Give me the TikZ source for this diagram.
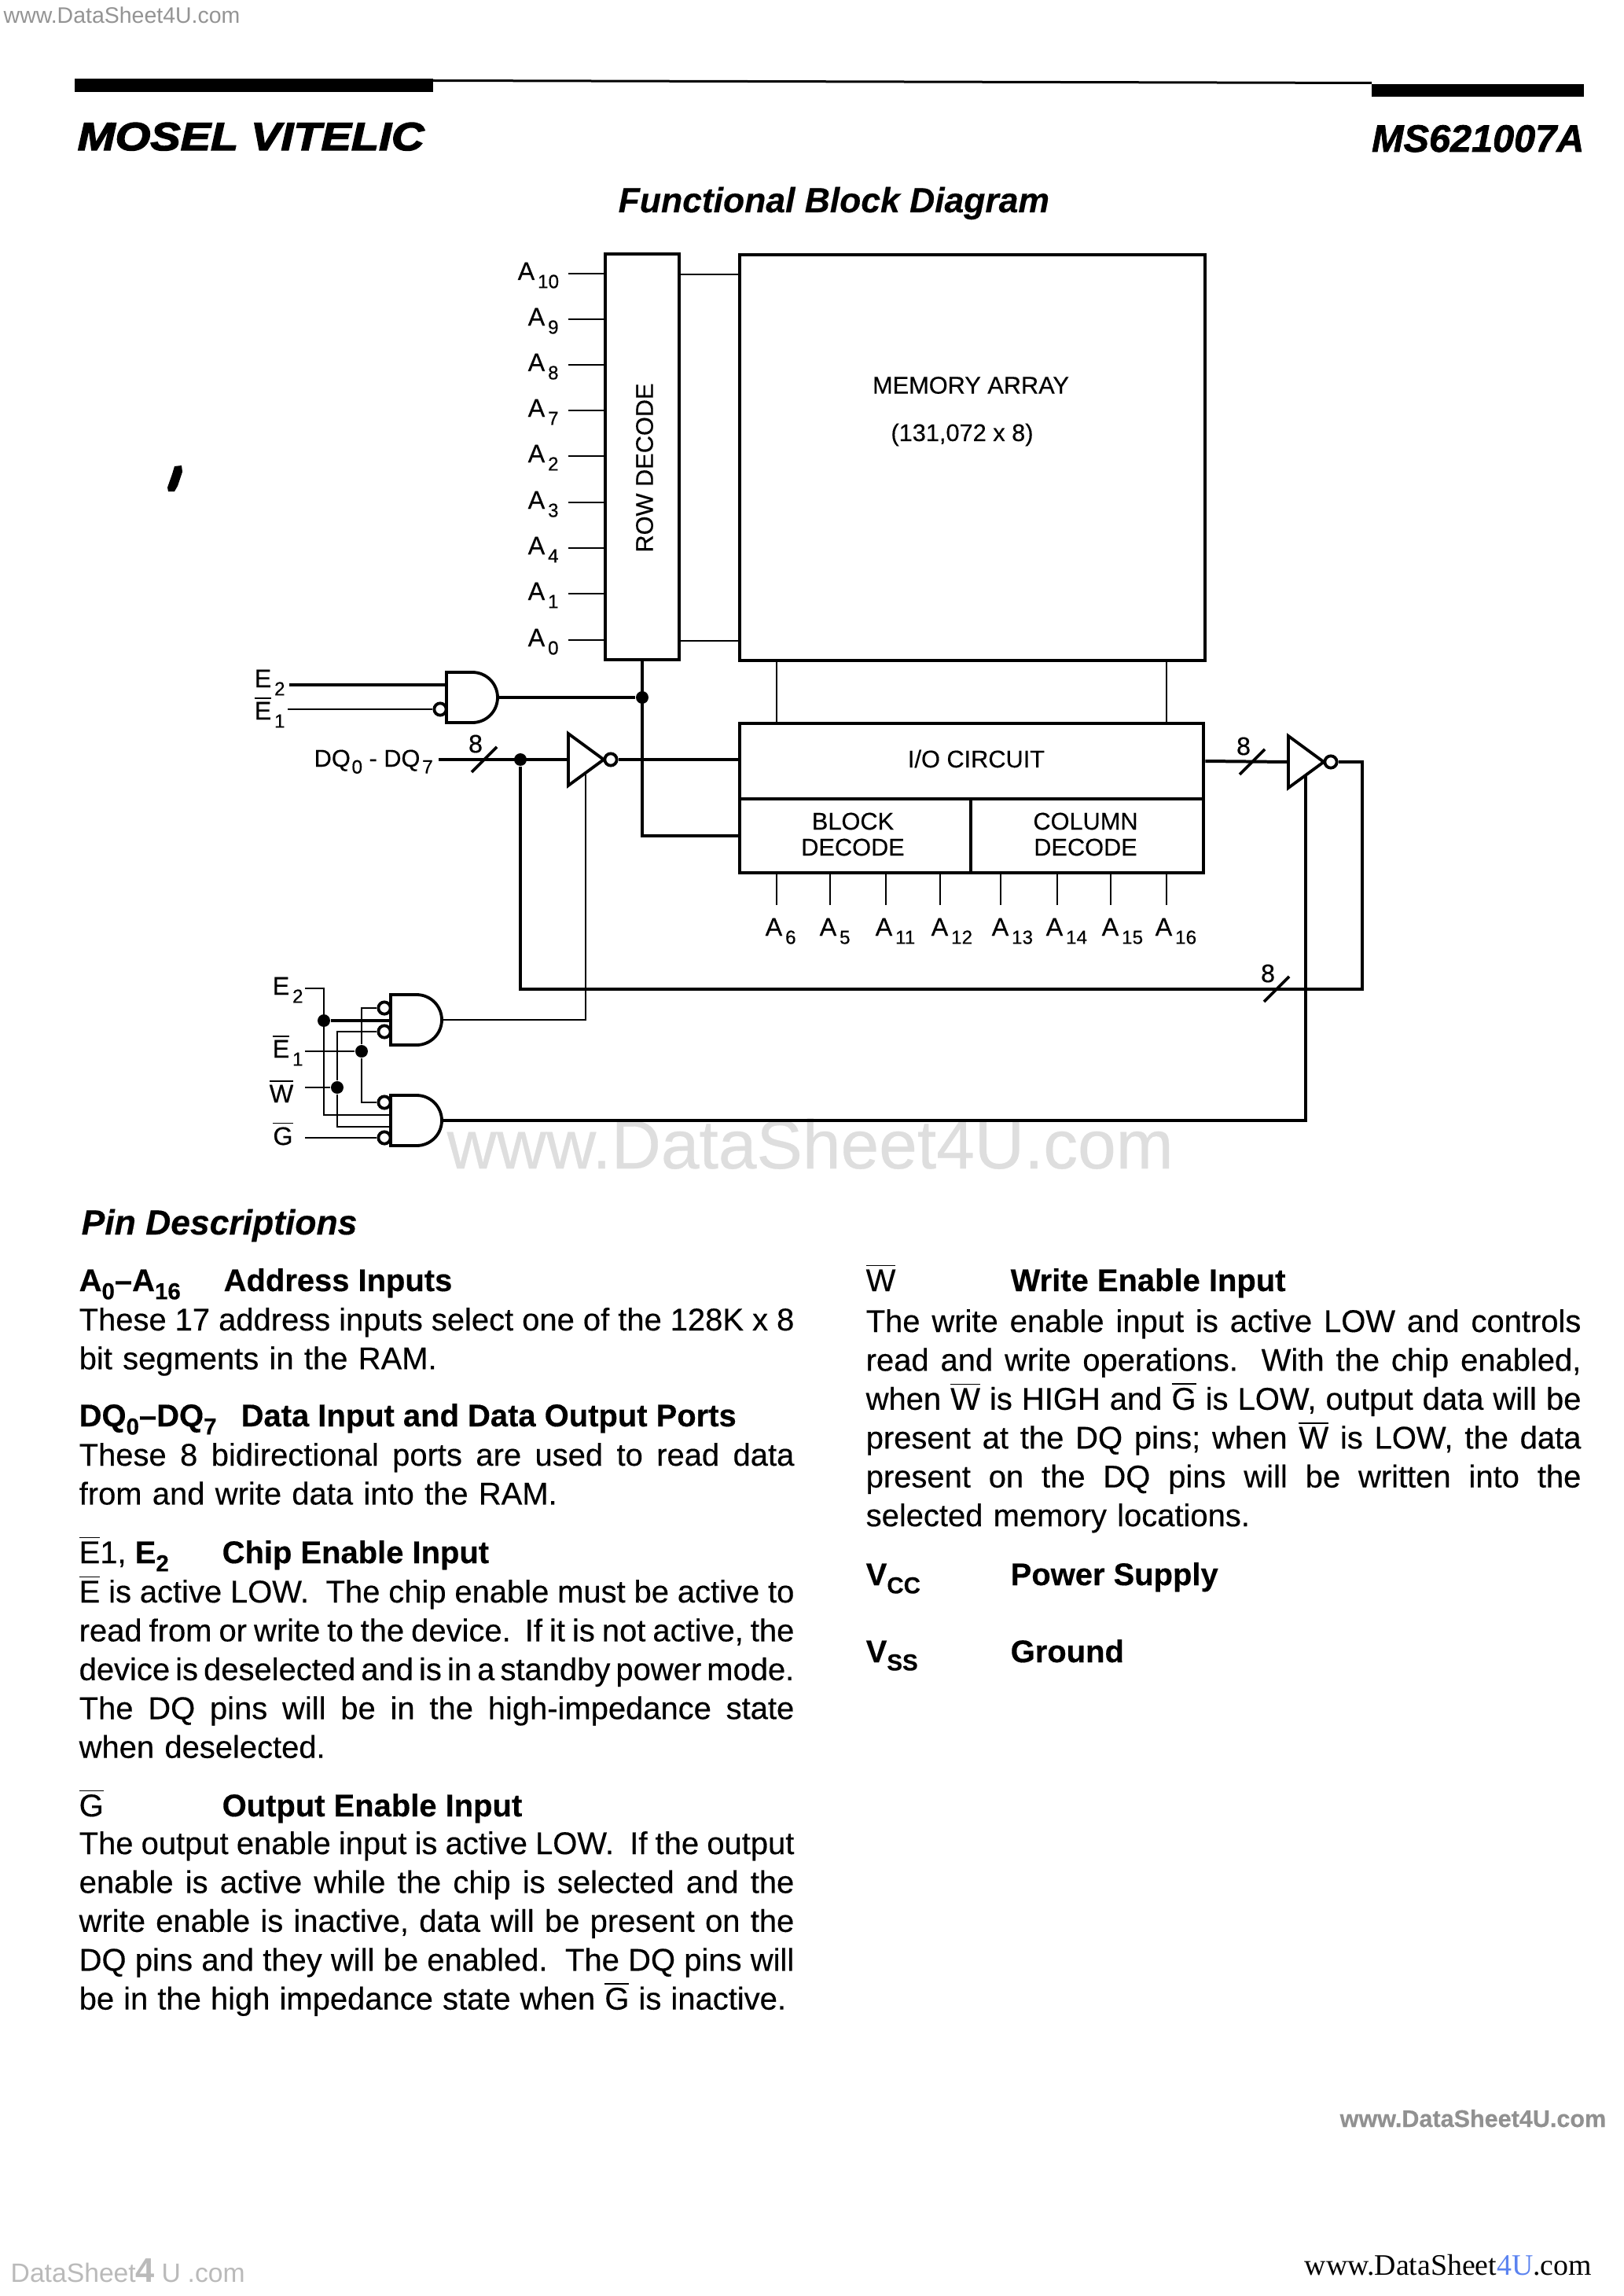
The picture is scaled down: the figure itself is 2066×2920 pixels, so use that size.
\documentclass[tikz,border=0pt]{standalone}
\usepackage{fontspec}
\setmainfont[FakeBold=0.35]{Liberation Sans}
\newfontfamily\logofont[UprightFont={* Bold Italic},FakeBold=3,FakeStretch=1.15]{Liberation Sans}
\newfontfamily\partfont[UprightFont={* Bold Italic},FakeBold=1.5]{Liberation Sans}
\newfontfamily\plainsans{Liberation Sans}
\newfontfamily\serifmark{Liberation Serif}
\usepackage{xcolor}
\definecolor{markblue}{HTML}{5B83F0}
\def\pxu{.288pt}
\newcommand{\lo}[1]{\kern1.1pt\raisebox{-3pt}{\fontsize{7}{7}\selectfont #1}}
\newcommand{\bsub}[1]{\raisebox{-3pt}{\fontsize{8.5}{8.5}\selectfont #1}}
\newcommand{\ovr}[1]{$\overline{\mbox{#1}}$}
\newcommand{\jl}[1]{\hbox to\linewidth{\frenchspacing\spaceskip=.16em plus 1fil\relax #1}}
\newcommand{\bodyfont}{\fontsize{11.5}{14.23}\selectfont}
\newcommand{\andgate}[3]{
  \draw[gateline] (#2,#3-32) -- ++(33,0) arc[start angle=90,end angle=-90,radius=32*\pxu] -- (#2,#3+32) -- cycle;
  \coordinate (#1-out) at (#2+65,#3);
}
\newcommand{\inverter}[3]{
  \draw[gateline] (#2,#3-33) -- (#2+45,#3) -- (#2,#3+33) -- cycle;
  \coordinate (#1-in) at (#2,#3);
  \coordinate (#1-en) at (#2+22,#3+17);
  \node[bubble] (#1-bub) at (#2+54,#3) {};
}
\newcommand{\busmark}[3]{
  \draw[gateline] (#2-16,#3+16) -- (#2+16,#3-16);
  \node[lbl] (#1) at (#2-11,#3-20) {8};
}
\tikzset{
  blockbox/.style={draw,line width=1.3pt,inner sep=0},
  lbl/.style={inner sep=0,font=\fontsize{9.3}{9.5}\selectfont},
  boxtxt/.style={inner sep=0,font=\fontsize{8.85}{9.5}\selectfont},
  gateline/.style={line width=1.1pt},
  wire/.style={line width=.85pt},
  bus/.style={line width=1.15pt},
  bubble/.style={circle,draw,fill=white,line width=1.1pt,inner sep=0,minimum size=4.4pt},
  dot/.style={circle,fill=black,inner sep=0,minimum size=4.6pt},
  para/.style={anchor=base west,inner sep=0,text width=262pt,font=\bodyfont},
  hd/.style={anchor=base west,inner sep=0,font=\bodyfont\bfseries},
  ttl/.style={anchor=base west,inner sep=0,font=\fontsize{12.8}{14}\selectfont\bfseries\itshape}
}
\begin{document}
\begin{tikzpicture}[x=.288pt,y=-.288pt]
\useasboundingbox (0,0) rectangle (2066,2920);
\fill[white] (0,0) rectangle (2066,2920);
\node[anchor=base west,inner sep=0,text=black!42,font=\fontsize{8.2}{9}\selectfont\plainsans] (marktop) at (4,30) {www.DataSheet4U.com};
\node[anchor=base west,inner sep=0,text=black!13,font=\fontsize{25.2}{26}\selectfont] (markmid) at (568,1486) {www.DataSheet4U.com};
\node[anchor=base west,inner sep=0,text=black!43,font=\fontsize{8.8}{9}\selectfont\bfseries] (markside) at (1704,2705) {www.DataSheet4U.com};
\node[anchor=base west,inner sep=0,text=black!27,font=\fontsize{9.7}{10}\selectfont\plainsans] (markleft) at (13,2902) {DataSheet{\fontsize{12.5}{13}\selectfont\bfseries 4}\kern2.5pt U\kern2.5pt.com};
\node[anchor=base west,inner sep=0,font=\fontsize{10.9}{11}\selectfont\serifmark] (markright) at (1659,2893) {www.DataSheet\textcolor{markblue}{4U}.com};

\fill (95,100) rectangle (551,117);
\fill (1745,107) rectangle (2015,123);
\fill (551,101) -- (1745,104) -- (1745,107) -- (551,104) -- cycle;
\node[anchor=base west,inner sep=0,font=\fontsize{14.4}{15}\selectfont\logofont] (vendor) at (98,191) {MOSEL VITELIC};
\node[anchor=base east,inner sep=0,font=\fontsize{14}{15}\selectfont\partfont] (partno) at (2016,193) {MS621007A};
\node[ttl] (title) at (786,270) {Functional Block Diagram};
\fill (222,593) -- (231,592) -- (232,600) -- (226,618) -- (222,625) -- (214,625) -- (213,620) -- (219,603) -- cycle;

\node[blockbox,minimum width=94*\pxu,minimum height=516*\pxu] (rowdec) at (817,581) {};
\node[blockbox,minimum width=592*\pxu,minimum height=516*\pxu] (memarray) at (1237,582) {};
\node[blockbox,minimum width=590*\pxu,minimum height=96*\pxu] (iocirc) at (1236,968) {};
\node[blockbox,minimum width=294*\pxu,minimum height=94*\pxu] (blockdec) at (1088,1063) {};
\node[blockbox,minimum width=296*\pxu,minimum height=94*\pxu] (coldec) at (1383,1063) {};
\node[boxtxt,rotate=90] (rowtxt) at (820,595) {ROW DECODE};
\node[boxtxt] (memtxt) at (1235,490) {MEMORY ARRAY};
\node[boxtxt] (sizetxt) at (1224,553) {(131,072 x 8)};
\node[boxtxt] (iotxt) at (1242,965) {I/O CIRCUIT};
\node[boxtxt,align=center] (blocktxt) at (1085,1061) {BLOCK\\DECODE};
\node[boxtxt,align=center] (coltxt) at (1381,1061) {COLUMN\\DECODE};

\foreach \n/\x/\y in {10/658/348,9/671/406,8/671/464,7/671/522,2/671/580,3/671/639,4/671/697,1/671/755,0/671/814}{
  \coordinate (pin\n) at (723,\y);
  \draw[wire] (pin\n) -- (rowdec.west |- pin\n);
  \node[lbl,anchor=base west] (adr\n) at (\x,\y+8) {A\lo{\n}};
}
\coordinate (rowtop) at (864,349);
\coordinate (rowbot) at (864,815);
\draw[wire] (rowtop) -- (memarray.west |- rowtop);
\draw[wire] (rowbot) -- (memarray.west |- rowbot);
\foreach \x in {988,1484}
  \draw[wire] (\x,840) -- (\x,920);
\foreach \n/\x/\l in {6/988/973,5/1056/1042,11/1127/1113,12/1196/1184,13/1273/1261,14/1345/1330,15/1413/1401,16/1484/1469}{
  \coordinate (pin\n) at (\x,1151);
  \draw[wire] (pin\n) -- (pin\n |- blockdec.south);
  \node[lbl,anchor=base west] (adr\n) at (\l,1190) {A\lo{\n}};
}

\andgate{cegate}{568}{887}
\inverter{ininv}{723}{966}
\inverter{outinv}{1639}{969}
\andgate{oegate}{497}{1297}
\andgate{wegate}{497}{1425}

\coordinate (e2a) at (368,871);
\coordinate (e2ain) at (568,871);
\coordinate (e1a) at (366,902);
\node[bubble] (e1bub) at (560,902) {};
\draw[bus] (e2a) -- (e2ain);
\draw[wire] (e1a) -- (e1bub);
\node[dot] (cedot) at (rowdec.south |- cegate-out) {};
\draw[bus] (cegate-out) -- (cedot);
\draw[bus] (rowdec.south) |- (blockdec.west);
\node[lbl,anchor=base west] (e2atxt) at (323,874) {E\lo{2}};
\node[lbl,anchor=base west] (e1atxt) at (323,915) {\ovr{E}\lo{1}};

\coordinate (dqpin) at (558,966);
\node[dot] (dqdot) at (662,966) {};
\draw[bus] (dqpin) -- (ininv-in);
\draw[bus] (ininv-bub) -- (ininv-bub -| iocirc.west);
\draw[bus] (iocirc.east) -- (outinv-in);
\coordinate (fbcorner) at (1733,1258);
\draw[bus] (outinv-bub) -| (fbcorner) -| (dqdot);
\node[boxtxt,anchor=base west] (dqtxt) at (399,975) {DQ\kern-.3pt\raisebox{-2.5pt}{\fontsize{7}{7}\selectfont\kern.8pt 0} - DQ\raisebox{-2.5pt}{\fontsize{7}{7}\selectfont\kern.8pt 7}};
\busmark{n8a}{616}{966}
\busmark{n8b}{1593}{969}
\busmark{n8c}{1624}{1258}

\draw[wire] (ininv-en) |- (oegate-out);
\draw[bus] (outinv-en) |- (wegate-out);

\coordinate (e2in) at (388,1257);
\coordinate (e1in) at (388,1337);
\coordinate (win) at (388,1383);
\coordinate (gin) at (388,1447);
\coordinate (e2mid) at (497,1298);
\coordinate (e2low) at (497,1418);
\coordinate (wlow) at (497,1433);
\node[bubble] (oea) at (489,1282) {};
\node[bubble] (oeb) at (489,1312) {};
\node[bubble] (wea) at (489,1402) {};
\node[bubble] (wec) at (489,1447) {};
\node[dot] (e2dot) at (412,1298) {};
\node[dot] (e1dot) at (460,1337) {};
\node[dot] (wdot) at (429,1383) {};
\draw[wire] (e2in) -- (e2dot |- e2in) -- (e2dot |- e2low) -- (e2low);
\draw[bus] (e2dot) -- (e2mid);
\draw[wire] (e1in) -- (e1dot);
\draw[wire] (oea) -| (e1dot);
\draw[wire] (wea) -| (e1dot);
\draw[wire] (win) -- (wdot);
\draw[wire] (oeb) -| (wdot);
\draw[wire] (wlow) -| (wdot);
\draw[wire] (gin) -- (wec);
\node[lbl,anchor=base west] (e2txt) at (346,1265) {E\lo{2}};
\node[lbl,anchor=base west] (e1txt) at (346,1345) {\ovr{E}\lo{1}};
\node[lbl,anchor=base] (wtxt) at (358,1402) {\ovr{W}};
\node[lbl,anchor=base] (gtxt) at (360,1456) {\ovr{G}};

\node[ttl] (pintitle) at (103,1570) {Pin Descriptions};
\node[hd] (adrhd) at (100,1642) {A\bsub{0}--A\bsub{16}};
\node[hd] (adrname) at (284,1642) {Address Inputs};
\node[para] (adrtxt) at (100,1692) {\jl{These 17 address inputs select one of the 128K x 8}
\hbox{bit segments in the RAM.}};
\node[hd] (dqhd) at (100,1814) {DQ\bsub{0}--DQ\bsub{7}};
\node[hd] (dqname) at (306,1814) {Data Input and Data Output Ports};
\node[para] (dqbody) at (100,1864) {\jl{These 8 bidirectional ports are used to read data}
\hbox{from and write data into the RAM.}};
\node[hd] (cehd) at (100,1988) {\mdseries\ovr{E}1, \bfseries E\bsub{2}};
\node[hd] (cename) at (282,1988) {Chip Enable Input};
\node[para] (cetxt) at (100,2038) {\jl{\ovr{E} is active LOW.~ The chip enable must be active to}
\jl{read from or write to the device.~ If it is not active, the}
\jl{device is deselected and is in a standby power mode.}
\jl{The DQ pins will be in the high-impedance state}
\hbox{when deselected.}};
\node[hd] (oehd) at (100,2310) {\mdseries\ovr{G}};
\node[hd] (oename) at (282,2310) {Output Enable Input};
\node[para] (oetxt) at (100,2358) {\jl{The output enable input is active LOW.~ If the output}
\jl{enable is active while the chip is selected and the}
\jl{write enable is inactive, data will be present on the}
\jl{DQ pins and they will be enabled.~ The DQ pins will}
\hbox to 259pt{\frenchspacing\spaceskip=.16em plus 1fil\relax be in the high impedance state when \ovr{G} is inactive.}};

\node[hd] (wehd) at (1101,1642) {\mdseries\ovr{W}};
\node[hd] (wename) at (1285,1642) {Write Enable Input};
\node[para] (wetxt) at (1101,1694) {\jl{The write enable input is active LOW and controls}
\jl{read and write operations.~ With the chip enabled,}
\jl{when \ovr{W} is HIGH and \ovr{G} is LOW, output data will be}
\jl{present at the DQ pins; when \ovr{W} is LOW, the data}
\jl{present on the DQ pins will be written into the}
\hbox{selected memory locations.}};
\node[hd] (vcchd) at (1101,2016) {V\bsub{CC}};
\node[hd] (vccname) at (1285,2016) {Power Supply};
\node[hd] (vsshd) at (1101,2114) {V\bsub{SS}};
\node[hd] (vssname) at (1285,2114) {Ground};
\end{tikzpicture}
\end{document}
